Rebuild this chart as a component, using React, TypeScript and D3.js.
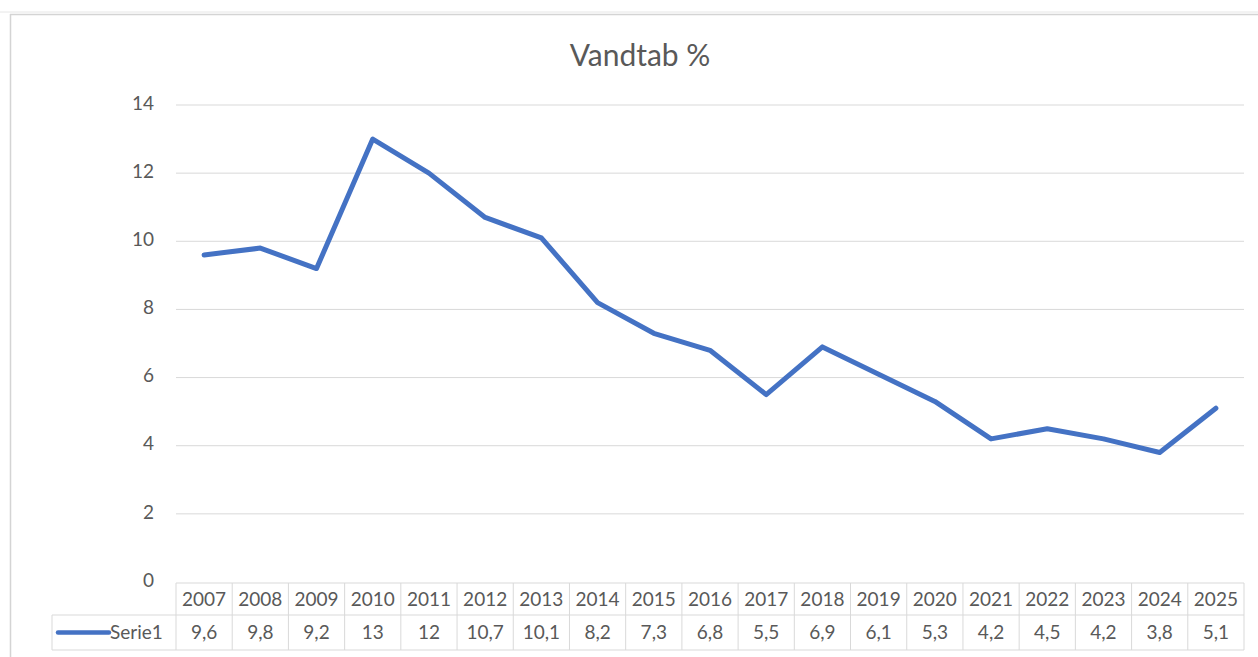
import React from "react";
import * as d3 from "d3";

const years = ["2007","2008","2009","2010","2011","2012","2013","2014","2015","2016","2017","2018","2019","2020","2021","2022","2023","2024","2025"];
const values = [9.6, 9.8, 9.2, 13, 12, 10.7, 10.1, 8.2, 7.3, 6.8, 5.5, 6.9, 6.1, 5.3, 4.2, 4.5, 4.2, 3.8, 5.1];
const yTicks = [0, 2, 4, 6, 8, 10, 12, 14];
const seriesName = "Serie1";
const title = "Vandtab %";

const W = 1258, H = 657;
const left = 176, right = 1244;
const font = "Lato, 'Open Sans', sans-serif";
const textColor = "#595959";
const lineColor = "#4472C4";
const gridColor = "#d9d9d9";

export default function App() {
  const x = d3.scaleBand<string>().domain(years).range([left, right]);
  const y = d3.scaleLinear().domain([0, 14]).range([582, 105]);
  const line = d3.line<number>().x((_, i) => (x(years[i]) as number) + x.bandwidth() / 2).y(d => y(d));
  const tTop = 583, tMid = 615, tBot = 650, legL = 52;
  const fmt = (v: number) => String(v).replace(".", ",");
  return (
    <svg width={W} height={H} style={{ position: "absolute", left: 0, top: 0, background: "#fff" }}>
      <rect x={0} y={0} width={W} height={H} fill="#fff" />
      <line x1={0} x2={W} y1={12} y2={12} stroke="#e6e6e6" strokeWidth={1} />
      <line x1={10} x2={W} y1={14.5} y2={14.5} stroke="#d4d4d4" strokeWidth={1.5} />
      <line x1={10.5} x2={10.5} y1={14} y2={H} stroke="#d4d4d4" strokeWidth={1.5} />
      <text x={640} y={66} textAnchor="middle" fontFamily={font} fontSize={30} fill={textColor}>{title}</text>
      {yTicks.map(t => (
        <g key={t}>
          {t > 0 && <line x1={left} x2={right} y1={y(t)} y2={y(t)} stroke={gridColor} strokeWidth={1} />}
          <text x={154} y={y(t) - 2} dy="0.35em" textAnchor="end" fontFamily={font} fontSize={19} fill={textColor}>{t}</text>
        </g>
      ))}
      {/* data table */}
      <g stroke={gridColor} strokeWidth={1} fill="none">
        <line x1={left} x2={right} y1={tTop} y2={tTop} />
        <line x1={legL} x2={right} y1={tMid} y2={tMid} />
        <line x1={legL} x2={right} y1={tBot} y2={tBot} />
        <line x1={legL} x2={legL} y1={tMid} y2={tBot} />
        {years.map(yr => (
          <line key={yr} x1={x(yr)} x2={x(yr)} y1={tTop} y2={tBot} />
        ))}
        <line x1={right} x2={right} y1={tTop} y2={tBot} />
      </g>
      {years.map((yr, i) => (
        <g key={yr} fontFamily={font} fontSize={19} fill={textColor} textAnchor="middle">
          <text x={(x(yr) as number) + x.bandwidth() / 2} y={(tTop + tMid) / 2} dy="0.35em">{yr}</text>
          <text x={(x(yr) as number) + x.bandwidth() / 2} y={(tMid + tBot) / 2} dy="0.35em">{fmt(values[i])}</text>
        </g>
      ))}
      <line x1={58} x2={109} y1={(tMid + tBot) / 2} y2={(tMid + tBot) / 2} stroke={lineColor} strokeWidth={4.5} strokeLinecap="round" />
      <text x={110} y={(tMid + tBot) / 2} dy="0.35em" fontFamily={font} fontSize={19} fill={textColor}>{seriesName}</text>
      <path d={line(values) as string} fill="none" stroke={lineColor} strokeWidth={5} strokeLinejoin="round" strokeLinecap="round" />
    </svg>
  );
}
